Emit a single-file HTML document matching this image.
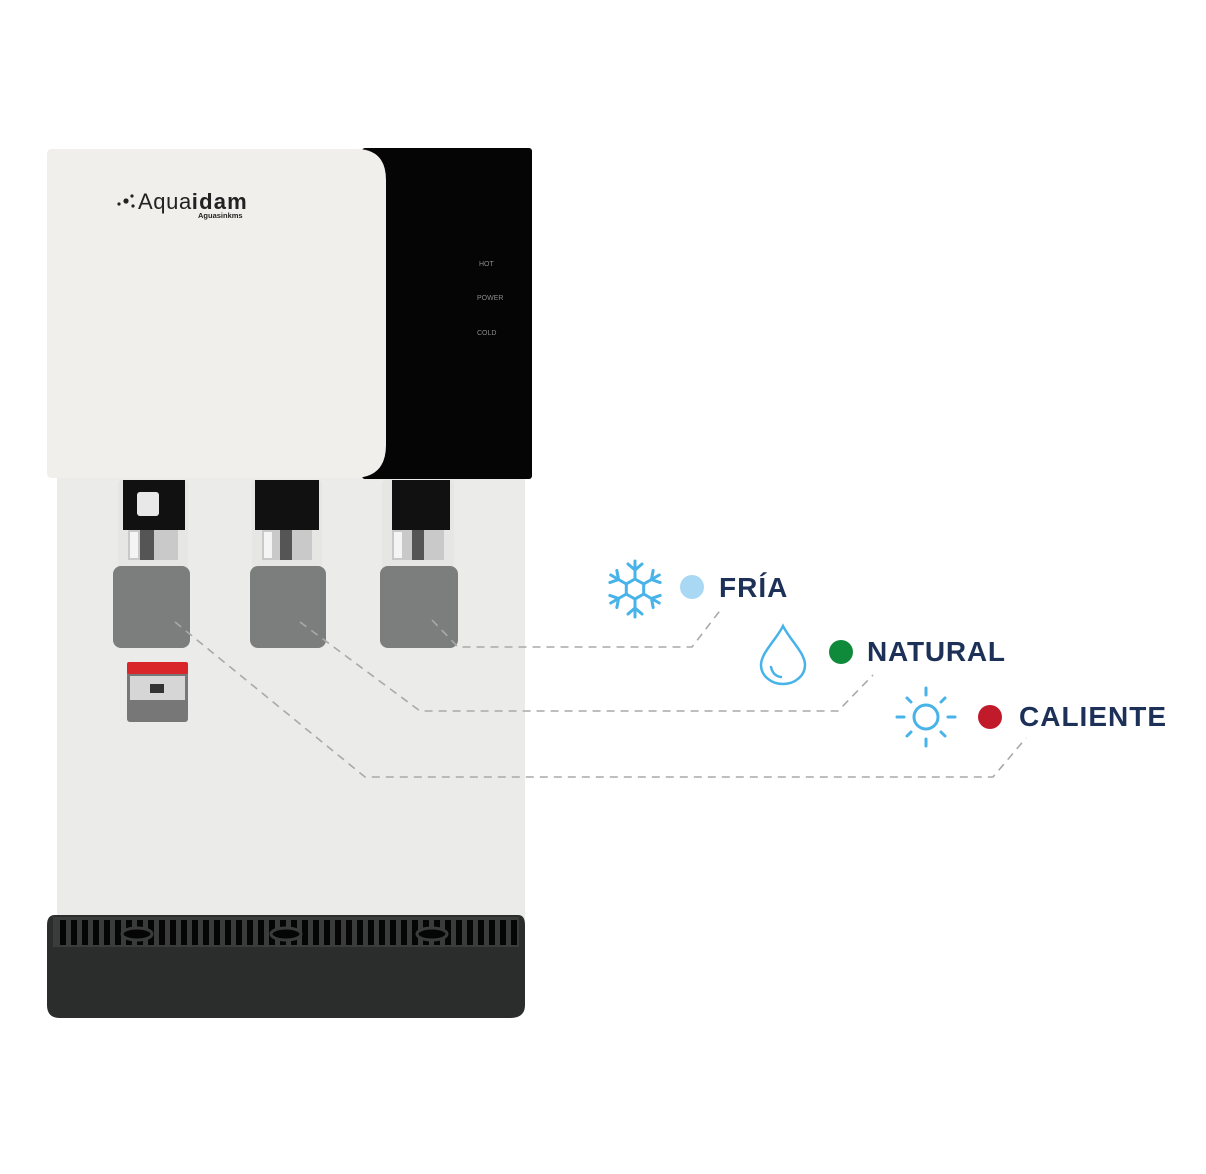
<!DOCTYPE html>
<html><head><meta charset="utf-8"><style>
html,body{margin:0;padding:0;background:#fff;}
svg{display:block;}
</style></head><body>
<svg width="1206" height="1174" viewBox="0 0 1206 1174" xmlns="http://www.w3.org/2000/svg" font-family="Liberation Sans, sans-serif">
<defs><pattern id="grate" x="60" y="0" width="11" height="30" patternUnits="userSpaceOnUse"><rect x="0" y="0" width="6" height="30" fill="#050505"/></pattern></defs>
<rect width="1206" height="1174" fill="#fff"/>
<rect x="57" y="470" width="468" height="470" fill="#ebebe9"/>
<rect x="362" y="148" width="170" height="331" rx="3" fill="#050505"/>
<text x="479" y="266" font-size="7" fill="#8a8a8a">HOT</text>
<text x="477" y="300" font-size="7" fill="#8a8a8a">POWER</text>
<text x="477" y="335" font-size="7" fill="#8a8a8a">COLD</text>
<path d="M52 149 H356 Q386 149 386 180 V445 Q386 478 353 478 H52 Q47 478 47 473 V154 Q47 149 52 149 Z" fill="#f1efec"/>
<circle cx="119" cy="204" r="1.6" fill="#222"/><circle cx="126" cy="201" r="2.6" fill="#222"/><circle cx="132" cy="196" r="1.6" fill="#222"/><circle cx="133" cy="206" r="1.6" fill="#222"/>
<text x="138" y="209" font-size="22" letter-spacing="0.6" fill="#222">Aqua<tspan font-weight="bold" letter-spacing="1.2">idam</tspan></text>
<text x="198" y="218" font-size="7.5" font-weight="bold" fill="#222">Aguasinkms</text>
<g>
<rect x="118" y="480" width="70" height="92" rx="4" fill="#e6e6e4"/>
<rect x="123" y="480" width="62" height="50" fill="#111"/>
<rect x="137" y="492" width="22" height="24" rx="3" fill="#e8e8e8"/>
<rect x="128" y="530" width="50" height="30" fill="#c9c9c9"/><rect x="140" y="530" width="14" height="30" fill="#555"/><rect x="130" y="532" width="8" height="26" fill="#f4f4f4"/>
<rect x="113" y="566" width="77" height="82" rx="8" fill="#7b7e7c"/>
</g>
<g>
<rect x="252" y="480" width="70" height="92" rx="4" fill="#e6e6e4"/>
<rect x="255" y="480" width="64" height="50" fill="#111"/>
<rect x="262" y="530" width="50" height="30" fill="#c9c9c9"/><rect x="280" y="530" width="12" height="30" fill="#555"/><rect x="264" y="532" width="8" height="26" fill="#f4f4f4"/>
<rect x="250" y="566" width="76" height="82" rx="8" fill="#7b7e7c"/>
</g>
<g>
<rect x="382" y="480" width="72" height="92" rx="4" fill="#e6e6e4"/>
<rect x="392" y="480" width="58" height="50" fill="#111"/>
<rect x="392" y="530" width="52" height="30" fill="#c9c9c9"/><rect x="412" y="530" width="12" height="30" fill="#555"/><rect x="394" y="532" width="8" height="26" fill="#f4f4f4"/>
<rect x="380" y="566" width="78" height="82" rx="8" fill="#7b7e7c"/>
</g>
<rect x="127" y="662" width="61" height="60" rx="3" fill="#777"/>
<rect x="127" y="662" width="61" height="12" rx="2" fill="#d9262b"/>
<rect x="130" y="676" width="55" height="24" fill="#d6d6d6"/>
<rect x="150" y="684" width="14" height="9" fill="#333"/>
<path d="M55 915 H518 Q525 915 525 925 V1005 Q525 1018 510 1018 H60 Q47 1018 47 1005 V925 Q47 915 55 915 Z" fill="#2b2d2c"/>
<rect x="53" y="917" width="466" height="30" fill="#3a3c3b"/>
<rect x="60" y="920" width="460" height="25" fill="url(#grate)"/>
<ellipse cx="137" cy="934" rx="15" ry="6" fill="#050505" stroke="#3a3c3b" stroke-width="3"/>
<ellipse cx="286" cy="934" rx="15" ry="6" fill="#050505" stroke="#3a3c3b" stroke-width="3"/>
<ellipse cx="432" cy="934" rx="15" ry="6" fill="#050505" stroke="#3a3c3b" stroke-width="3"/>
<g fill="none" stroke="#a9a9a9" stroke-width="1.6" stroke-dasharray="8 6">
<polyline points="432,620 458,647 692,647 722,608"/>
<polyline points="300,622 420,711 838,711 873,675"/>
<polyline points="175,622 365,777 993,777 1026,738"/>
</g>
<g stroke="#47b3e9" stroke-width="3" fill="none" stroke-linecap="round" transform="translate(635,589)">
<polygon points="0,-10 8.7,-5 8.7,5 0,10 -8.7,5 -8.7,-5"/>
<g id="arm"><line x1="0" y1="-10" x2="0" y2="-28"/><polyline points="-7,-25 0,-19 7,-25"/></g>
<use href="#arm" transform="rotate(60)"/><use href="#arm" transform="rotate(120)"/><use href="#arm" transform="rotate(180)"/><use href="#arm" transform="rotate(240)"/><use href="#arm" transform="rotate(300)"/>
</g>
<circle cx="692" cy="587" r="12" fill="#a8d8f3"/>
<text x="719" y="597" font-size="28" font-weight="bold" letter-spacing="1" fill="#1d3158">FRÍA</text>
<g stroke="#47b3e9" stroke-width="2.5" fill="none" stroke-linecap="round">
<path d="M783 626 C776 640 761 653 761 665 A22 19 0 0 0 805 665 C805 653 790 640 783 626 Z"/>
<path d="M771 667 Q773 676 781 677"/>
</g>
<circle cx="841" cy="652" r="12" fill="#0f8a3b"/>
<text x="867" y="661" font-size="28" font-weight="bold" letter-spacing="0.8" fill="#1d3158">NATURAL</text>
<g stroke="#47b3e9" stroke-width="3" fill="none" stroke-linecap="round">
<circle cx="926" cy="717" r="12"/>
<line x1="926" y1="688" x2="926" y2="695"/><line x1="926" y1="739" x2="926" y2="746"/>
<line x1="897" y1="717" x2="904" y2="717"/><line x1="948" y1="717" x2="955" y2="717"/>
<line x1="907" y1="698" x2="911" y2="702"/><line x1="941" y1="732" x2="945" y2="736"/>
<line x1="945" y1="698" x2="941" y2="702"/><line x1="911" y1="732" x2="907" y2="736"/>
</g>
<circle cx="990" cy="717" r="12" fill="#c11a2a"/>
<text x="1019" y="726" font-size="28" font-weight="bold" letter-spacing="1" fill="#1d3158">CALIENTE</text>
</svg>
</body></html>
